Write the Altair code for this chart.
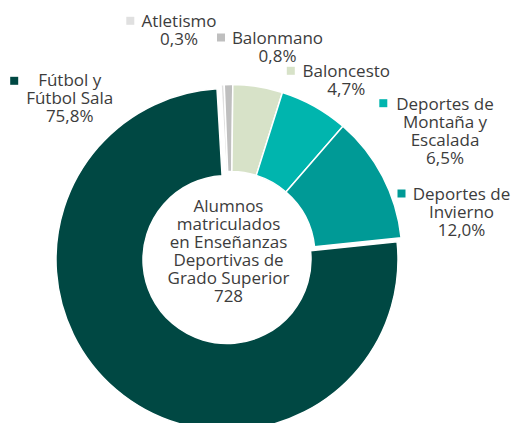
import altair as alt
import pandas as pd

# ---- data ----
categories = ["Atletismo", "Balonmano", "Baloncesto",
              "Deportes de Montaña y Escalada", "Deportes de Invierno",
              "Fútbol y Fútbol Sala"]
percent = [0.3, 0.8, 4.7, 6.5, 12.0, 75.8]
pct_labels = ["0,3%", "0,8%", "4,7%", "6,5%", "12,0%", "75,8%"]
label_lines = [["Atletismo"], ["Balonmano"], ["Baloncesto"],
               ["Deportes de", "Montaña y", "Escalada"],
               ["Deportes de", "Invierno"],
               ["Fútbol y", "Fútbol Sala"]]
center_title = ["Alumnos", "matriculados", "en Enseñanzas",
                "Deportivas de", "Grado Superior"]
total = 728

# ---- styles / layout ----
colors = ["#e0e0e0", "#bfbfbf", "#d7e2c8", "#00b5ae", "#009a96", "#004843"]
exploded = "Fútbol y Fútbol Sala"
FONT = "Open Sans"
FONT_SIZE = 17
FONT_WEIGHT = 400
TEXT_COLOR = "#3c3c3c"
W, H = 503, 415
CX, CY = 223, 247.5          # pie centre (plot coords)
EX, EY = 219, 251.5          # centre of the pulled-out slice
R_OUT, R_IN = 171, 84
START = -0.0585              # start angle, radians
TWO_PI = 6.283185307179586

# label anchors (text centre x, first baseline y, marker x, marker y)
label_layout = {
    "Atletismo": (171, 18.7, 122.3, 12.8),
    "Balonmano": (269.5, 36.3, 213, 29.5),
    "Baloncesto": (338.3, 69.3, 282.8, 62.8),
    "Deportes de Montaña y Escalada": (437, 102, 375.3, 95.2),
    "Deportes de Invierno": (453.5, 192, 393.5, 185.5),
    "Fútbol y Fútbol Sala": (61.7, 78, 6.2, 72.8),
}

df = pd.DataFrame({
    "cat": categories,
    "pct": percent,
    "idx": list(range(len(categories))),
})

lab = pd.DataFrame({
    "cat": categories,
    "text": ["\n".join(l + [p]) for l, p in zip(label_lines, pct_labels)],
    "tx": [label_layout[c][0] for c in categories],
    "ty": [label_layout[c][1] for c in categories],
    "sx": [label_layout[c][2] for c in categories],
    "sy": [label_layout[c][3] for c in categories],
})

color_scale = alt.Scale(domain=categories, range=colors)
theta_scale = alt.Scale(range=[START, START + TWO_PI])

base = alt.Chart(df)
is_exp = alt.datum.cat == exploded

arcs_main = base.mark_arc(radius=R_OUT, radius2=R_IN, stroke="white",
                          strokeWidth=1.5).encode(
    theta=alt.Theta("pct:Q", stack=True, scale=theta_scale),
    order=alt.Order("idx:Q"),
    color=alt.Color("cat:N", scale=color_scale, legend=None),
    opacity=alt.condition(is_exp, alt.value(0), alt.value(1)),
    x=alt.value(CX), y=alt.value(CY),
)

arcs_exp = base.mark_arc(radius=R_OUT, radius2=R_IN, stroke="white",
                         strokeWidth=1.5).encode(
    theta=alt.Theta("pct:Q", stack=True, scale=theta_scale),
    order=alt.Order("idx:Q"),
    color=alt.Color("cat:N", scale=color_scale, legend=None),
    opacity=alt.condition(is_exp, alt.value(1), alt.value(0)),
    x=alt.value(EX), y=alt.value(EY),
)

lbase = alt.Chart(lab)
markers = lbase.mark_square(size=64, opacity=1).encode(
    x=alt.X("sx:Q", scale=None, axis=None),
    y=alt.Y("sy:Q", scale=None, axis=None),
    color=alt.Color("cat:N", scale=color_scale, legend=None),
)
texts = lbase.mark_text(font=FONT, fontSize=FONT_SIZE, fontWeight=FONT_WEIGHT,
                        lineHeight=18, lineBreak="\n",
                        align="center", baseline="alphabetic",
                        color=TEXT_COLOR).encode(
    x=alt.X("tx:Q", scale=None, axis=None),
    y=alt.Y("ty:Q", scale=None, axis=None),
    text="text:N",
)

center = alt.Chart(pd.DataFrame({"t": ["\n".join(center_title + [str(total)])]})).mark_text(
    font=FONT, fontSize=FONT_SIZE, fontWeight=FONT_WEIGHT, lineHeight=18, lineBreak="\n",
    align="center", baseline="alphabetic", color=TEXT_COLOR,
).encode(x=alt.value(220.5), y=alt.value(203.7), text="t:N")

chart = alt.layer(arcs_main, arcs_exp, markers, texts, center).properties(
    width=W, height=H,
    autosize=alt.AutoSizeParams(type="none"),
    padding=0,
).configure_view(stroke=None)

chart.save("out.html", embed_options={"renderer": "svg", "actions": False})
